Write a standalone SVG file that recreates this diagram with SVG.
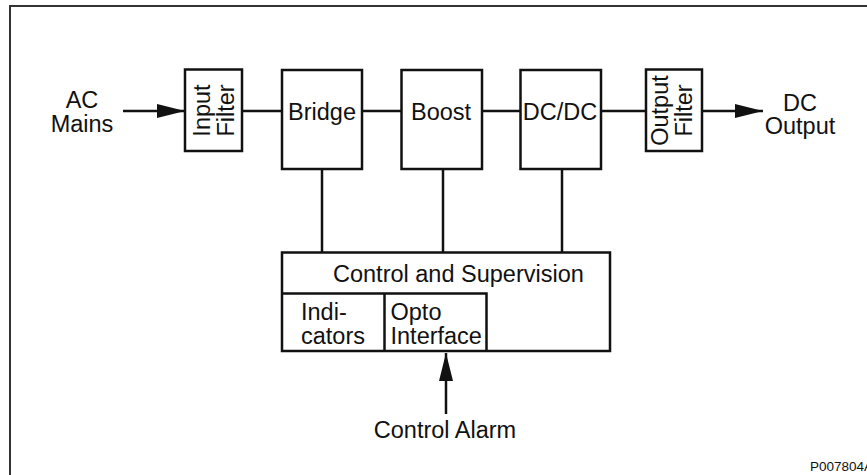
<svg xmlns="http://www.w3.org/2000/svg" width="867" height="475" viewBox="0 0 867 475">
<style>
.box{fill:#fff;stroke:#111;stroke-width:2.5}
.ln{fill:none;stroke:#111;stroke-width:2.5}
.t{font-family:"Liberation Sans",Arial,sans-serif;font-size:23.5px;fill:#111}
.m{text-anchor:middle}
.small{font-family:"Liberation Sans",Arial,sans-serif;font-size:13.5px;fill:#111}
</style>
<defs>
<marker id="arr" markerUnits="userSpaceOnUse" markerWidth="28" markerHeight="14" refX="28" refY="7" orient="auto">
<path d="M0,0 L28,7 L0,14 z" fill="#111"/>
</marker>
</defs>
<rect x="10" y="6" width="880" height="490" fill="#fff" stroke="#333" stroke-width="2"/>
<g id="connectors">
<line class="ln" x1="123" y1="111" x2="185" y2="111" marker-end="url(#arr)"/>
<line class="ln" x1="242" y1="111" x2="282" y2="111"/>
<line class="ln" x1="362" y1="111" x2="401" y2="111"/>
<line class="ln" x1="482" y1="111" x2="520" y2="111"/>
<line class="ln" x1="601" y1="111" x2="646" y2="111"/>
<line class="ln" x1="702" y1="111" x2="763" y2="111" marker-end="url(#arr)"/>
<line class="ln" x1="322" y1="169" x2="322" y2="252"/>
<line class="ln" x1="443" y1="169" x2="443" y2="252"/>
<line class="ln" x1="562" y1="169" x2="562" y2="252"/>
<line class="ln" x1="446" y1="414" x2="446" y2="353" marker-end="url(#arr)"/>
</g>
<g id="ac-mains">
<text class="t m" x="82" y="108">AC</text>
<text class="t m" x="82" y="132">Mains</text>
</g>
<g id="input-filter">
<rect class="box" x="185" y="69.5" width="57" height="81.5"/>
<text class="t m" transform="translate(210,110.5) rotate(-90)">Input</text>
<text class="t m" transform="translate(233.5,110.5) rotate(-90)">Filter</text>
</g>
<g id="bridge">
<rect class="box" x="282" y="70" width="80" height="99"/>
<text class="t m" x="322" y="120">Bridge</text>
</g>
<g id="boost">
<rect class="box" x="401.5" y="70" width="80.5" height="99"/>
<text class="t m" x="441" y="120">Boost</text>
</g>
<g id="dcdc">
<rect class="box" x="520.5" y="70" width="80.5" height="99"/>
<text class="t m" x="560" y="119.5">DC/DC</text>
</g>
<g id="output-filter">
<rect class="box" x="646" y="69.5" width="56" height="81.5"/>
<text class="t m" transform="translate(667.5,110.5) rotate(-90)">Output</text>
<text class="t m" transform="translate(692,110.5) rotate(-90)">Filter</text>
</g>
<g id="dc-output">
<text class="t m" x="800" y="111">DC</text>
<text class="t m" x="800" y="134">Output</text>
</g>
<g id="control-supervision">
<rect class="box" x="282" y="252.5" width="328" height="98.5"/>
<text class="t" x="333" y="282">Control and Supervision</text>
<polyline class="ln" points="282,293.5 486.5,293.5 486.5,351"/>
</g>
<g id="indicators">
<line class="ln" x1="384.5" y1="293.5" x2="384.5" y2="351"/>
<text class="t" x="301" y="320">Indi-</text>
<text class="t" x="301" y="344">cators</text>
</g>
<g id="opto-interface">
<text class="t" x="390.5" y="320">Opto</text>
<text class="t" x="390.5" y="344">Interface</text>
</g>
<g id="control-alarm">
<text class="t m" x="445" y="438">Control Alarm</text>
</g>
<text class="small" x="810" y="471">P007804A</text>
</svg>
